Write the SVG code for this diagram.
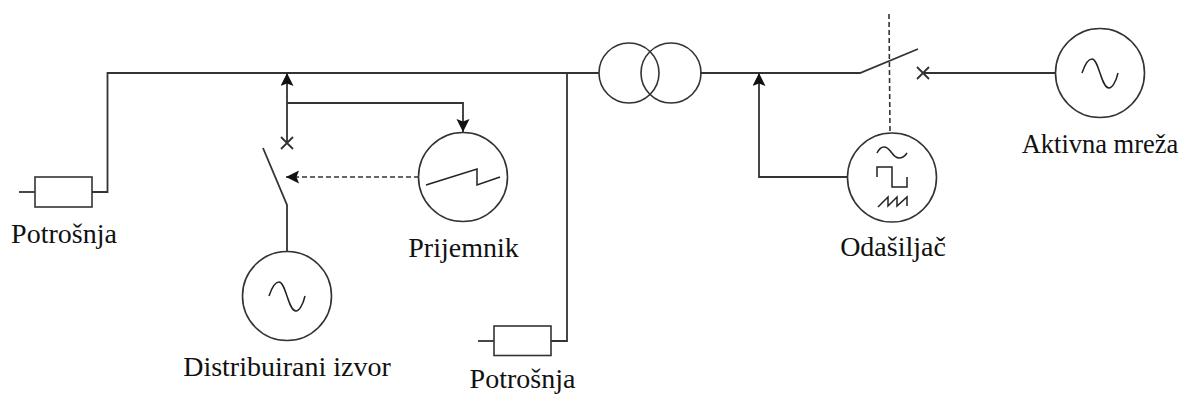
<svg xmlns="http://www.w3.org/2000/svg" width="1180" height="394" viewBox="0 0 1180 394">
<defs>
<marker id="ah" markerUnits="userSpaceOnUse" markerWidth="15" markerHeight="14" refX="13" refY="6.5" orient="auto"><path d="M0 0L13 6.5L0 13L2.5 6.5Z" fill="#111"/></marker>
<path id="sine" d="M-18 0C-15 -9 -11 -14 -8 -14C-1 -14 1 15 9 15C12 15 16 9 18 0"/>
</defs>
<style>
.l{fill:none;stroke:#333;stroke-width:1.8}
.c{fill:#fff;stroke:#333;stroke-width:1.6}
.s{fill:none;stroke:#222;stroke-width:1.5}
.d{fill:none;stroke:#333;stroke-width:1.6;stroke-dasharray:5 3}
text{font-family:"Liberation Serif","Times New Roman",serif;font-size:28px;fill:#111;text-anchor:middle}
</style>
<rect width="1180" height="394" fill="#fff"/>
<g id="connectors">
<path class="l" d="M92 192H107.500V73H600"/>
<path class="l" d="M567 73V341H551"/>
<path class="l" d="M700 73H860L918 49"/>
<path class="l" marker-end="url(#ah)" d="M287 143V73"/>
<path class="l" marker-end="url(#ah)" d="M287 103H463V132"/>
<path class="l" marker-end="url(#ah)" d="M848 177H759V73"/>
<path class="l" d="M923 73H1056"/>
<path class="l" d="M263 148L287 205V252"/>
<path class="d" marker-end="url(#ah)" d="M419 177H286"/>
<path class="d" d="M889 14L890 133"/>
<path class="l" d="M281 137L293 149M293 137L281 149"/>
<path class="l" d="M917 67L929 79M929 67L917 79"/>
<path class="l" d="M19 192H35"/>
<path class="l" d="M478 341H494"/>
</g>
<g id="transformer"><circle class="c" cx="629" cy="73" r="30"/><circle cx="671" cy="73" r="30" class="c" style="fill:none"/></g>
<g id="aktivna-mreza"><circle class="c" cx="1100" cy="73" r="44.500"/><use href="#sine" x="1100" y="73" class="s"/><text x="1100" y="153" style="font-size:26.500px">Aktivna mreža</text></g>
<g id="odasiljac"><circle class="c" cx="892" cy="177.500" r="44.500"/>
<path class="s" d="M877 153C879 149 881 147 884 147C891 147 892 158 899 158C902 158 905 156 907 153"/>
<path class="s" d="M877 177V167H892V187H907V177"/>
<path class="s" d="M878 207L888 197V206L897 197V206L907 197V206"/>
<text x="893" y="256">Odašiljač</text></g>
<g id="prijemnik"><circle class="c" cx="463" cy="177" r="44.500"/><path class="s" d="M426 185L477 169V185L500 177"/><text x="463.500" y="257">Prijemnik</text></g>
<g id="distribuirani-izvor"><circle class="c" cx="287" cy="296" r="44.500"/><use href="#sine" x="287" y="296" class="s"/><text x="287" y="376">Distribuirani izvor</text></g>
<g id="potrosnja-1"><rect class="c" x="35" y="177" width="57" height="30"/><text x="64" y="243">Potrošnja</text></g>
<g id="potrosnja-2"><rect class="c" x="494" y="326" width="57" height="29.500"/><text x="522.500" y="387.500">Potrošnja</text></g>
</svg>
